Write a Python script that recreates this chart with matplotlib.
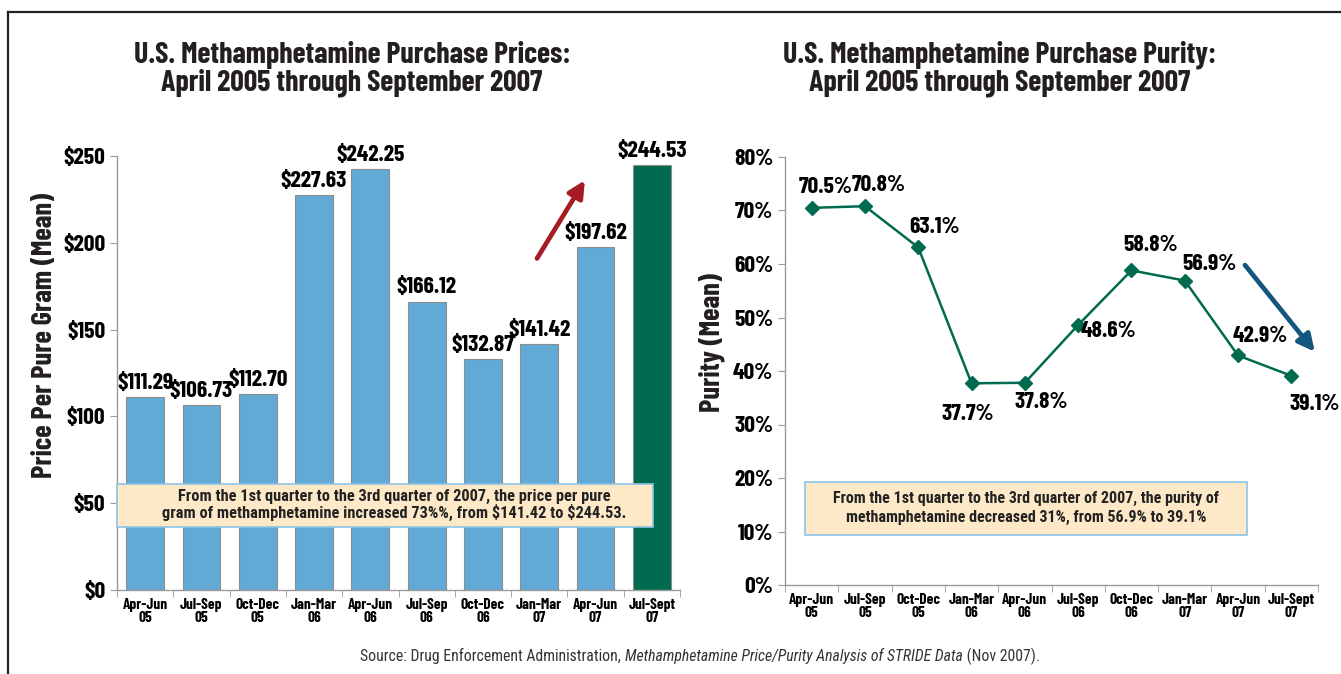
"""U.S. methamphetamine purchase price and purity, Apr 2005 - Sep 2007 (two panels)."""
import matplotlib
matplotlib.use("Agg")
import matplotlib.pyplot as plt
from matplotlib.lines import Line2D
import numpy as np

BODY = ["Roboto Condensed", "DejaVu Sans"]
HEAVY = ["Barlow Condensed", "Roboto Condensed", "DejaVu Sans"]
plt.rcParams["font.family"] = BODY

quarters = ["Apr-Jun\n05", "Jul-Sep\n05", "Oct-Dec\n05", "Jan-Mar\n06", "Apr-Jun\n06",
            "Jul-Sep\n06", "Oct-Dec\n06", "Jan-Mar\n07", "Apr-Jun\n07", "Jul-Sept\n07"]
price = [111.29, 106.73, 112.70, 227.63, 242.25, 166.12, 132.87, 141.42, 197.62, 244.53]
purity = [70.5, 70.8, 63.1, 37.7, 37.8, 48.6, 58.8, 56.9, 42.9, 39.1]

# label offsets (points) for the purity line
pur_off = [(10, 15), (10, 15), (12, 15), (-3, -22), (12, -14), (22, -4),
           (14, 18), (18, 12), (16, 14), (17, -20)]

BLUE = "#62a9d5"
GREEN = "#006b4f"
AXC = "#9a9a9a"
W, H = 1341, 674

fig = plt.figure(figsize=(W / 100, H / 100), dpi=100)

# frame around the whole graphic
fig.add_artist(Line2D([8 / W, 8 / W], [0, 1 - 12 / H], transform=fig.transFigure,
                      color="#222222", lw=1.6))
fig.add_artist(Line2D([8 / W, 1], [1 - 12 / H, 1 - 12 / H], transform=fig.transFigure,
                      color="#222222", lw=1.6))

x = np.arange(len(quarters))


def style_axes(ax):
    for s in ("top", "right"):
        ax.spines[s].set_visible(False)
    for s in ("left", "bottom"):
        ax.spines[s].set_color(AXC)
        ax.spines[s].set_linewidth(1.0)
    ax.set_xlim(-0.5, len(quarters) - 0.5)
    ax.set_xticks(x)
    ax.set_xticklabels(quarters, fontsize=11, fontweight="bold", linespacing=0.85,
                       family=HEAVY)
    ax.set_xticks(np.arange(-0.5, len(quarters)), minor=True)
    ax.tick_params(axis="x", which="major", length=0, pad=6)
    ax.tick_params(axis="x", which="minor", length=5, color=AXC, direction="out")
    ax.tick_params(axis="y", length=5, color=AXC, direction="out", labelsize=17)
    for t in ax.get_yticklabels():
        t.set_fontweight("bold")
        t.set_family(HEAVY)


def note_box(x0, y0, x1, y1):
    # pixel box, measured from top-left of the figure
    fig.add_artist(plt.Rectangle((x0 / W, 1 - y1 / H), (x1 - x0) / W, (y1 - y0) / H,
                                 transform=fig.transFigure, facecolor="#fde9c8",
                                 edgecolor="#8cc3e6", lw=1.2, zorder=4))


def heavy_text(px, py, s, size, **kw):
    return fig.text(px / W, 1 - py / H, s, fontsize=size, fontweight="bold",
                    family=HEAVY, color="#231f20", ha="center", va="center", **kw)


# ---------------- left: price bars ----------------
ax1 = fig.add_axes([117 / W, 1 - 590 / H, 563 / W, 434 / H])
cols = [BLUE] * (len(price) - 1) + [GREEN]
ax1.bar(x, price, width=0.67, color=cols, edgecolor="#8c8c8c", linewidth=0.8, zorder=2)
ax1.set_ylim(0, 250)
ax1.set_yticks(np.arange(0, 251, 50))
ax1.set_yticklabels([f"${v}" for v in range(0, 251, 50)])
style_axes(ax1)
for xi, v in zip(x, price):
    ax1.annotate(f"${v:.2f}", (xi, v), xytext=(0, 3), textcoords="offset points",
                 ha="center", va="bottom", fontsize=17, fontweight="bold", family=HEAVY)
ax1.annotate("", xy=(7.81, 236), xytext=(6.96, 191),
             arrowprops=dict(arrowstyle="-|>,head_length=1.0,head_width=0.5",
                             color="#a51c24", lw=3.4, shrinkA=0, shrinkB=0))
note_box(117, 484, 653, 527)
fig.text(394 / W, 1 - 505 / H,
         "From the 1st quarter to the 3rd quarter of 2007, the price per pure\n"
         "gram of methamphetamine increased 73%%, from \\$141.42 to \\$244.53.",
         ha="center", va="center", fontsize=11.8, fontweight="bold", color="#222222",
         linespacing=1.0, zorder=5)
heavy_text(45, 335, "Price Per Pure Gram (Mean)", 20.5, rotation=90)
heavy_text(352, 69, "U.S. Methamphetamine Purchase Prices:\nApril 2005 through September 2007",
           21.5, linespacing=0.97)

# ---------------- right: purity line ----------------
ax2 = fig.add_axes([785 / W, 1 - 585 / H, 533 / W, 428 / H])
ax2.plot(x, purity, color=GREEN, lw=1.8, marker="D", markersize=7, zorder=3)
ax2.set_ylim(0, 80)
ax2.set_yticks(np.arange(0, 81, 10))
ax2.set_yticklabels([f"{v}%" for v in range(0, 81, 10)])
style_axes(ax2)
for xi, v, (dx, dy) in zip(x, purity, pur_off):
    ax2.annotate(f"{v}%", (xi, v), xytext=(dx, dy), textcoords="offset points",
                 ha="center", va="center", fontsize=17, fontweight="bold", family=HEAVY)
ax2.annotate("", xy=(9.44, 43.6), xytext=(8.13, 59.8),
             arrowprops=dict(arrowstyle="-|>,head_length=1.0,head_width=0.5",
                             color="#14567e", lw=3.4, shrinkA=0, shrinkB=0))
note_box(805, 482, 1247, 535)
fig.text(1026 / W, 1 - 508 / H,
         "From the 1st quarter to the 3rd quarter of 2007, the purity of\n"
         "methamphetamine decreased 31%, from 56.9% to 39.1%",
         ha="center", va="center", fontsize=11.5, fontweight="bold", color="#222222",
         linespacing=1.3, zorder=5)
heavy_text(712, 343, "Purity (Mean)", 20.5, rotation=90)
heavy_text(1000, 69, "U.S. Methamphetamine Purchase Purity:\nApril 2005 through September 2007",
           21.5, linespacing=0.97)

# ---------------- source line (regular + italic pieces) ----------------
pieces = [("Source: Drug Enforcement Administration, ", "normal"),
          ("Methamphetamine Price/Purity Analysis of STRIDE Data", "italic"),
          (" (Nov 2007).", "normal")]
renderer = fig.canvas.get_renderer()
objs = [fig.text(0, 1 - 656 / H, s, fontsize=11.3, style=st, va="center", color="#333333")
        for s, st in pieces]
widths = [o.get_window_extent(renderer).width for o in objs]
x0 = (700 - sum(widths) / 2) / W
for o, w in zip(objs, widths):
    o.set_x(x0)
    x0 += w / W

fig.savefig("out.png", dpi=100)
